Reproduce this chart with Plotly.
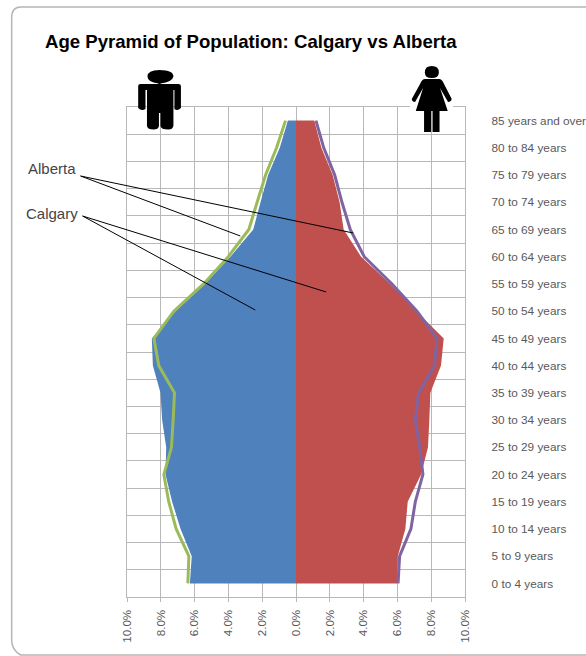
import plotly.graph_objects as go

age_groups = ["0 to 4 years", "5 to 9 years", "10 to 14 years", "15 to 19 years", "20 to 24 years",
              "25 to 29 years", "30 to 34 years", "35 to 39 years", "40 to 44 years", "45 to 49 years",
              "50 to 54 years", "55 to 59 years", "60 to 64 years", "65 to 69 years", "70 to 74 years",
              "75 to 79 years", "80 to 84 years", "85 years and over"]
calgary_male = [6.28, 6.17, 6.83, 7.33, 7.72, 7.68, 7.92, 8.02, 8.47, 8.53, 7.13, 5.40, 3.88, 2.53, 2.10, 1.65, 0.96, 0.48]
alberta_male = [6.40, 6.34, 7.09, 7.53, 7.82, 7.37, 7.27, 7.19, 8.12, 8.41, 7.23, 5.47, 4.01, 2.79, 2.30, 1.80, 1.15, 0.62]
calgary_female = [5.98, 6.02, 6.47, 6.61, 7.40, 7.81, 7.89, 7.95, 8.58, 8.74, 7.12, 5.58, 3.85, 2.82, 2.58, 2.17, 1.50, 1.08]
alberta_female = [6.04, 6.13, 6.80, 7.06, 7.51, 7.32, 7.06, 7.26, 8.20, 8.34, 7.16, 5.68, 4.04, 3.21, 2.72, 2.29, 1.64, 1.18]
tick_values = [-10, -8, -6, -4, -2, 0, 2, 4, 6, 8, 10]
tick_labels = ["10.0%", "8.0%", "6.0%", "4.0%", "2.0%", "0.0%", "2.0%", "4.0%", "6.0%", "8.0%", "10.0%"]

W, H = 586, 656
L, R, T, B = 126.5, 465.0, 107.0, 597.0
GRID = "#B8B8B8"


def px(x):
    return (x - L) / (R - L)


def py(y):
    return (B - y) / (B - T)


def M(x, y):
    return f"M{px(x):.5f},{py(y):.5f}"


def Ln(x, y):
    return f"L{px(x):.5f},{py(y):.5f}"


def Q(cx, cy, x, y):
    return f"Q{px(cx):.5f},{py(cy):.5f} {px(x):.5f},{py(y):.5f}"


def shape_path(d, color="black"):
    return dict(type="path", xref="paper", yref="paper", path=d, fillcolor=color, line=dict(width=0), layer="above")


def seg(x0, y0, x1, y1, color="black", width=1):
    return dict(type="line", xref="paper", yref="paper", x0=px(x0), y0=py(y0), x1=px(x1), y1=py(y1),
                line=dict(color=color, width=width), layer="above")


fig = go.Figure()
fig.add_trace(go.Scatter(x=[-v for v in calgary_male], y=age_groups, mode="lines", fill="tozerox",
                         fillcolor="#4F81BD", line=dict(width=0, color="#4F81BD"), name="Calgary male"))
fig.add_trace(go.Scatter(x=calgary_female, y=age_groups, mode="lines", fill="tozerox",
                         fillcolor="#C0504D", line=dict(width=0, color="#C0504D"), name="Calgary female"))
fig.add_trace(go.Scatter(x=[-v for v in alberta_male], y=age_groups, mode="lines",
                         line=dict(color="#9BBB59", width=3), name="Alberta male"))
fig.add_trace(go.Scatter(x=alberta_female, y=age_groups, mode="lines",
                         line=dict(color="#8064A2", width=3), name="Alberta female"))

man = (M(147, 76.5) + Q(147, 70, 159, 70) + Q(173, 70, 173, 76.5) + Q(172, 82, 160, 83.5) + Ln(160, 84)
       + Ln(178, 84) + Q(180.5, 84, 180.5, 86) + Ln(180.5, 108) + Q(177, 111.5, 174, 109) + Ln(174, 90)
       + Ln(173, 90) + Ln(173, 126) + Q(172, 129.5, 168, 129.5) + Q(160.5, 129.5, 160, 126) + Ln(160, 113)
       + Ln(158.5, 113) + Ln(158.5, 126) + Q(158, 129.5, 153, 129.5) + Q(147, 129.5, 146.5, 126)
       + Ln(146.5, 90) + Ln(145, 90) + Ln(145, 109) + Q(141, 111.5, 137.7, 108) + Ln(137.7, 86)
       + Q(137.7, 84, 140, 84) + Ln(158, 84) + Ln(158, 83.5) + Q(147, 82, 147, 76.5) + "Z")
woman_head = (M(424.8, 72.5) + Q(424.8, 66, 431.7, 66) + Q(438.8, 66, 438.8, 72.5) + Q(438.8, 78, 431.7, 78)
              + Q(424.8, 78, 424.8, 72.5) + "Z")
woman = (M(425, 79) + Ln(439, 79) + Q(442, 79, 444, 84) + Ln(451.7, 99) + Q(451, 102, 448, 102)
         + Ln(440, 88) + Ln(447.7, 111) + Ln(439.5, 111) + Ln(439.5, 132) + Ln(432.5, 132) + Ln(432.5, 111)
         + Ln(431, 111) + Ln(431, 132) + Ln(424, 132) + Ln(424, 111) + Ln(415.7, 111) + Ln(423, 88)
         + Ln(415, 102) + Q(412, 102, 411.7, 99) + Ln(420, 84) + Q(422, 79, 425, 79) + "Z")
frame = (M(11, 18) + Q(11, 7, 20, 7) + Ln(592, 7) + Ln(592, 655) + Ln(20, 655) + Q(11, 650, 11, 640) + "Z")

shapes = [
    dict(type="path", xref="paper", yref="paper", path=frame, line=dict(color="#B5B5B5", width=1.5),
         fillcolor="rgba(0,0,0,0)", layer="below"),
    dict(type="rect", xref="paper", yref="paper", x0=px(410), x1=px(453), y0=py(110), y1=py(100),
         fillcolor="white", line=dict(width=0), layer="above"),
    shape_path(man), shape_path(woman_head), shape_path(woman),
    seg(80, 176, 240, 236), seg(80, 176, 353, 233),
    seg(82, 216, 255, 310), seg(82, 216, 326, 292),
]

annotations = [
    dict(text="Age Pyramid of Population: Calgary vs Alberta", xref="paper", yref="paper", x=px(42), y=py(42),
         xanchor="left", yanchor="middle", showarrow=False,
         font=dict(family="Liberation Sans", size=18.6, color="black", weight="bold")),
    dict(text="Alberta", xref="paper", yref="paper", x=px(25), y=py(169), xanchor="left", yanchor="middle",
         showarrow=False, font=dict(family="Liberation Sans", size=15, color="#444444")),
    dict(text="Calgary", xref="paper", yref="paper", x=px(23), y=py(213), xanchor="left", yanchor="middle",
         showarrow=False, font=dict(family="Liberation Sans", size=15, color="#444444")),
]

fig.update_layout(
    width=W, height=H, showlegend=False, paper_bgcolor="white", plot_bgcolor="white",
    margin=dict(l=L, r=W - R, t=T, b=H - B, pad=0, autoexpand=False), shapes=shapes, annotations=annotations,
    font=dict(family="Liberation Sans", size=12, color="#595959"),
    xaxis=dict(range=[-10, 10], tickmode="array", tickvals=tick_values, ticktext=tick_labels, tickangle=-90,
               showgrid=True, gridcolor=GRID, gridwidth=1.4, zeroline=False, ticks="outside", ticklen=4,
               tickcolor=GRID, showline=True, linecolor=GRID, mirror=True, linewidth=1.4, ticklabelstandoff=3,
               automargin=False, tickfont=dict(size=11.6, color="#595959")),
    yaxis=dict(type="category", categoryorder="array", categoryarray=age_groups, range=[-0.5, 17.5],
               side="right", tickson="boundaries", ticks="outside", ticklen=0, showgrid=True, gridcolor=GRID,
               gridwidth=1.4, zeroline=False, showline=True, linecolor=GRID, mirror=True, linewidth=1.4,
               ticklabelstandoff=23, tickfont=dict(size=11.8, color="#595959"), automargin=False),
)

fig.write_html("out.html", config={"displayModeBar": False},
               post_script="document.body.style.margin='0';document.body.style.overflow='hidden';")
